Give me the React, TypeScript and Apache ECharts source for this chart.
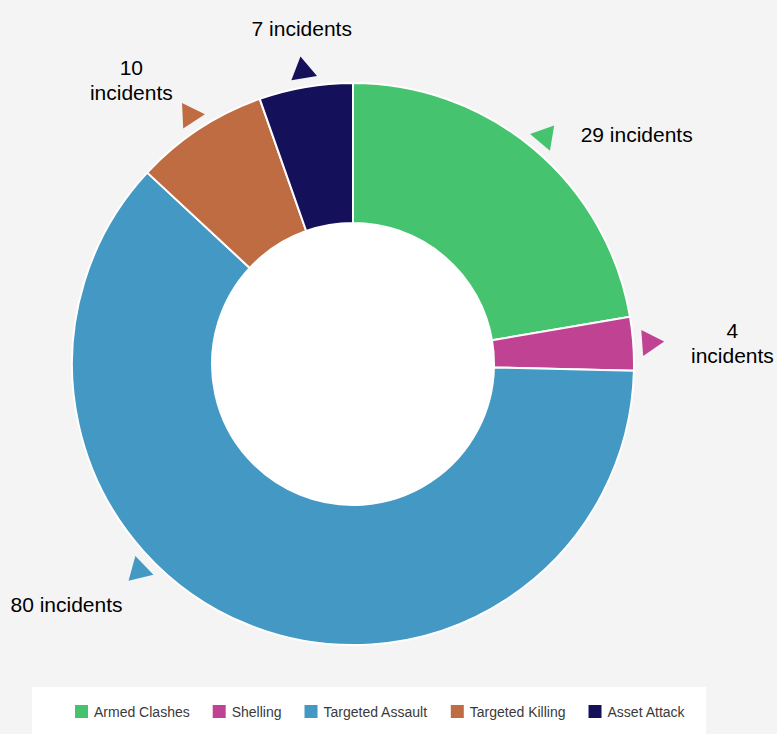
import React, { useEffect, useRef } from "react";
import * as echarts from "echarts";

const categories = ["Armed Clashes", "Shelling", "Targeted Assault", "Targeted Killing", "Asset Attack"];
const incidents = [29, 4, 80, 10, 7];
const colors = ["#45c36e", "#c04393", "#4498c4", "#c06c43", "#14105a"];
const unitLabel = "incidents";

// layout-only settings (degrees clockwise from 12 o'clock, radii in px)
const CX = 353;
const CY = 364;
const INNER_R = 141;
const OUTER_R = 281;
const MARKER_R = 301;
const markerAngleOverride: Record<string, number> = { "Targeted Assault": 226 };
const labelPlacement: Record<string, { angle: number; r: number; wrap: boolean }> = {
  "Armed Clashes": { angle: 51, r: 365, wrap: false },
  "Shelling": { angle: 86.8, r: 380, wrap: true },
  "Targeted Assault": { angle: 230, r: 374, wrap: false },
  "Targeted Killing": { angle: 322, r: 360, wrap: true },
  "Asset Attack": { angle: 351.3, r: 339, wrap: false },
};

export default function App() {
  const ref = useRef<HTMLDivElement>(null);

  useEffect(() => {
    if (!ref.current) return;
    const chart = echarts.init(ref.current, undefined, { renderer: "svg" });
    const total = incidents.reduce((a, b) => a + b, 0);
    let cum = 0;
    const mids = incidents.map((v) => {
      const m = ((cum + v / 2) / total) * 360;
      cum += v;
      return m;
    });

    const markerData = categories.map((c, i) => {
      const ang = markerAngleOverride[c] ?? mids[i];
      return {
        value: [MARKER_R, ang],
        symbolRotate: -ang,
        itemStyle: { color: colors[i], opacity: 1 },
      };
    });

    const labelData = categories.map((c, i) => {
      const p = labelPlacement[c];
      return {
        value: [p.r, p.angle],
        label: {
          formatter: p.wrap ? `${incidents[i]}\n${unitLabel}` : `${incidents[i]} ${unitLabel}`,
        },
      };
    });

    chart.setOption({
      animation: false,
      backgroundColor: "#f4f4f4",
      color: colors,
      graphic: [
        {
          type: "rect",
          left: 32,
          top: 687,
          shape: { width: 674, height: 60 },
          style: { fill: "#ffffff" },
          z: 0,
          silent: true,
        },
        {
          type: "circle",
          shape: { cx: CX, cy: CY, r: INNER_R },
          style: { fill: "#ffffff" },
          z: 0,
          silent: true,
        },
      ],
      legend: {
        data: categories,
        left: 73,
        top: 703,
        padding: 0,
        itemWidth: 15,
        itemHeight: 15,
        itemGap: 21,
        icon: "rect",
        selectedMode: false,
        z: 5,
        textStyle: { fontFamily: "Liberation Sans, Arial, sans-serif", fontSize: 14, color: "#3a3a3a" },
      },
      polar: { center: [CX, CY], radius: 400 },
      angleAxis: {
        type: "value",
        min: 0,
        max: 360,
        startAngle: 90,
        clockwise: true,
        show: false,
      },
      radiusAxis: { type: "value", min: 0, max: 400, show: false },
      series: [
        {
          type: "pie",
          center: [CX, CY],
          radius: [INNER_R, OUTER_R],
          startAngle: 90,
          clockwise: true,
          label: { show: false },
          labelLine: { show: false },
          emphasis: { disabled: true },
          itemStyle: { borderColor: "#ffffff", borderWidth: 2 },
          data: categories.map((c, i) => ({ name: c, value: incidents[i] })),
        },
        {
          type: "scatter",
          coordinateSystem: "polar",
          symbol: "triangle",
          symbolSize: [26, 22],
          silent: true,
          itemStyle: { opacity: 1 },
          data: markerData,
        },
        {
          type: "scatter",
          coordinateSystem: "polar",
          symbolSize: 0,
          silent: true,
          itemStyle: { color: "rgba(0,0,0,0)", opacity: 1 },
          label: {
            show: true,
            position: "inside",
            align: "center",
            verticalAlign: "middle",
            fontFamily: "Liberation Sans, Arial, sans-serif",
            fontSize: 21,
            lineHeight: 25,
            color: "#000000",
            opacity: 1,
          },
          data: labelData,
        },
      ],
    });
    return () => chart.dispose();
  }, []);

  return (
    <div
      ref={ref}
      style={{ position: "fixed", left: 0, top: 0, width: 777, height: 734 }}
    />
  );
}
